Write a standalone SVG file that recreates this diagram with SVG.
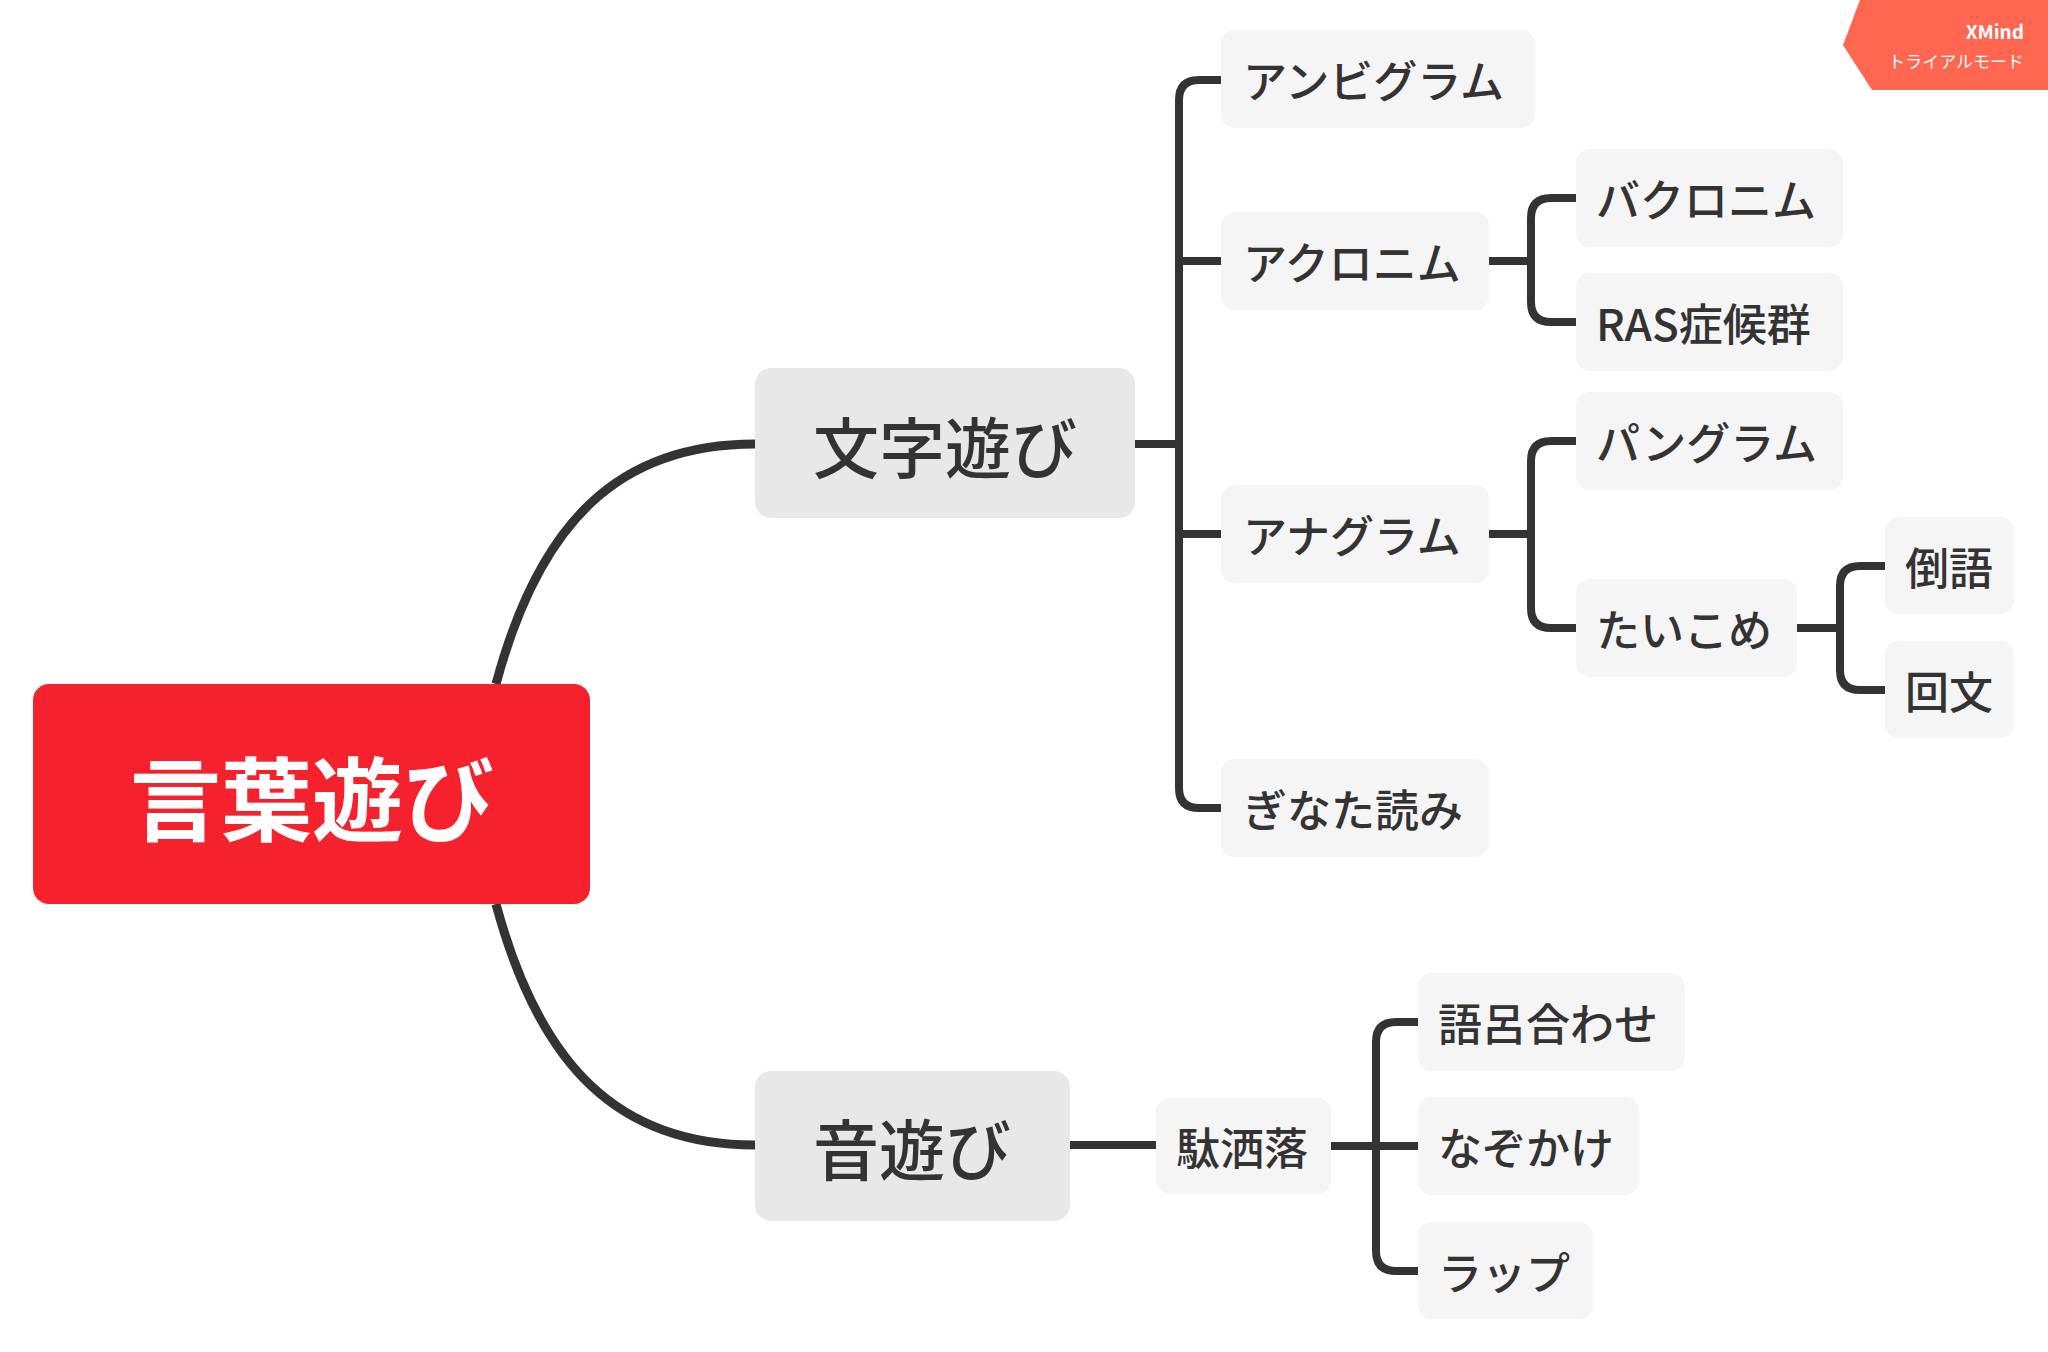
<svg xmlns="http://www.w3.org/2000/svg" width="2048" height="1352" viewBox="0 0 2048 1352">
<style>
text{font-family:"Noto Sans CJK JP","Noto Sans",sans-serif;fill:#333;dominant-baseline:central}
.l1 rect{fill:#e8e8e8}
.l1 text{font-size:66px;font-weight:500;text-anchor:middle}
.l2 rect{fill:#f6f5f5}
.l2 text{font-size:44px;font-weight:500}
.c{fill:none;stroke:#333;stroke-width:8;stroke-linecap:butt}
</style>
<rect width="2048" height="1352" fill="#fff"/>
<g id="connectors">
<path class="c" style="stroke-width:9" d="M496,684 C540,520 620,444 755,444"/>
<path class="c" style="stroke-width:9" d="M496,904 C540,1068 620,1145 755,1145"/>
<path class="c" d="M1135,444 H1179 M1221,80 H1199 Q1179,80 1179,100 V788 Q1179,808 1199,808 H1221 M1179,261 H1221 M1179,534 H1221"/>
<path class="c" d="M1489,261 H1531 M1576,198 H1551 Q1531,198 1531,218 V302 Q1531,322 1551,322 H1576"/>
<path class="c" d="M1489,534 H1531 M1576,441 H1551 Q1531,441 1531,461 V608 Q1531,628 1551,628 H1576"/>
<path class="c" d="M1797,628 H1840 M1885,566 H1860 Q1840,566 1840,586 V670 Q1840,690 1860,690 H1885"/>
<path class="c" d="M1070,1145 H1156"/>
<path class="c" d="M1331,1146 H1418 M1418,1022 H1396 Q1376,1022 1376,1042 V1251 Q1376,1271 1396,1271 H1418"/>
</g>
<g id="root"><rect x="33" y="684" width="557" height="220" rx="16" fill="#f5222d"/><text x="312" y="794" font-size="91" font-weight="bold" text-anchor="middle" style="fill:#fff">言葉遊び</text></g>
<g id="n-moji" class="l1"><rect x="755" y="368" width="380" height="150" rx="16"/><text x="945" y="444">文字遊び</text></g>
<g id="n-oto" class="l1"><rect x="755" y="1071" width="315" height="150" rx="16"/><text x="912" y="1146">音遊び</text></g>
<g id="n1" class="l2"><rect x="1221" y="30" width="314" height="98" rx="14"/><text x="1243" y="79">アンビグラム</text></g>
<g id="n2" class="l2"><rect x="1221" y="212" width="268" height="98" rx="14"/><text x="1243" y="261">アクロニム</text></g>
<g id="n3" class="l2"><rect x="1221" y="485" width="268" height="98" rx="14"/><text x="1243" y="534">アナグラム</text></g>
<g id="n4" class="l2"><rect x="1221" y="759" width="268" height="98" rx="14"/><text x="1243" y="808">ぎなた読み</text></g>
<g id="n5" class="l2"><rect x="1576" y="149" width="267" height="98" rx="14"/><text x="1596" y="198">バクロニム</text></g>
<g id="n6" class="l2"><rect x="1576" y="273" width="267" height="98" rx="14"/><text x="1596" y="322">RAS症候群</text></g>
<g id="n7" class="l2"><rect x="1576" y="392" width="267" height="98" rx="14"/><text x="1596" y="441">パングラム</text></g>
<g id="n8" class="l2"><rect x="1576" y="579" width="221" height="98" rx="14"/><text x="1596" y="628">たいこめ</text></g>
<g id="n9" class="l2"><rect x="1885" y="517" width="129" height="97" rx="14"/><text x="1905" y="566">倒語</text></g>
<g id="n10" class="l2"><rect x="1885" y="641" width="129" height="97" rx="14"/><text x="1905" y="690">回文</text></g>
<g id="n11" class="l2"><rect x="1156" y="1098" width="175" height="96" rx="14"/><text x="1176" y="1146">駄洒落</text></g>
<g id="n12" class="l2"><rect x="1418" y="973" width="267" height="98" rx="14"/><text x="1438" y="1022">語呂合わせ</text></g>
<g id="n13" class="l2"><rect x="1418" y="1097" width="221" height="98" rx="14"/><text x="1438" y="1146">なぞかけ</text></g>
<g id="n14" class="l2"><rect x="1418" y="1222" width="175" height="97" rx="14"/><text x="1438" y="1271">ラップ</text></g>
<g id="watermark"><polygon points="1860,0 2048,0 2048,90 1872,90 1843,45" fill="#fe6650"/><text x="2024" y="30" font-size="19" font-weight="bold" text-anchor="end" style="fill:#fff">XMind</text><text x="2024" y="60" font-size="17" text-anchor="end" style="fill:#fff">トライアルモード</text></g>
</svg>
